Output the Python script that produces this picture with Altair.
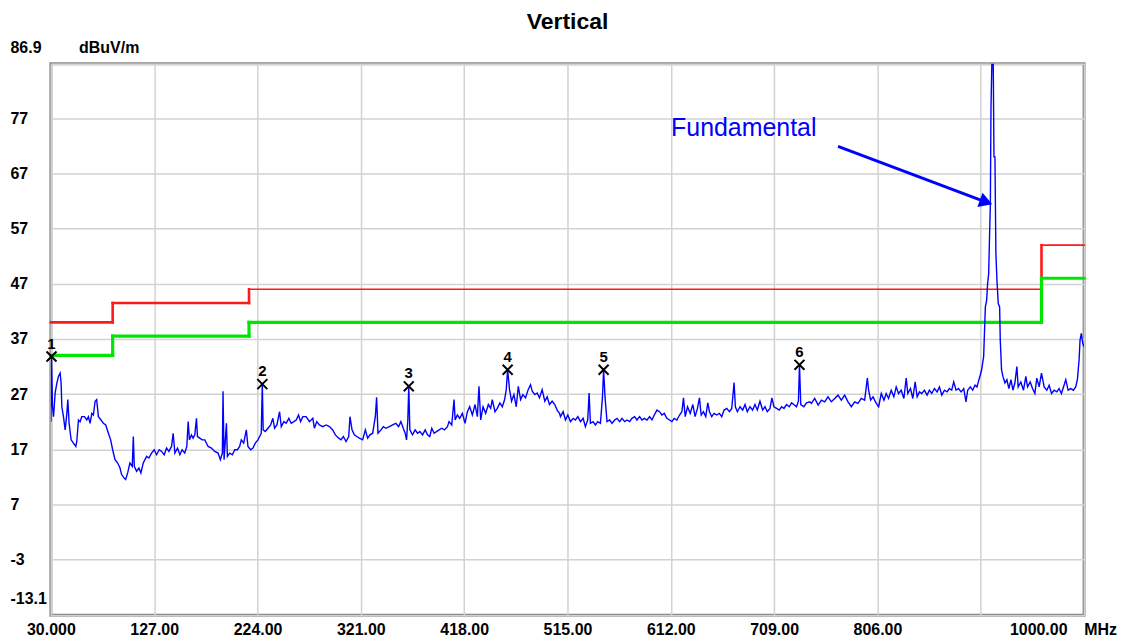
import altair as alt
import pandas as pd

# ---------------- data ----------------
trace_freq = [
    30.0, 30.6, 31.5, 32.5, 34.0, 35.6, 37.1, 38.7, 39.6, 40.3, 41.8, 43.4, 45.0, 45.9, 47.1, 49.0,
    51.2, 53.4, 54.3, 55.9, 57.4, 59.0, 61.5, 63.7, 65.2, 66.8, 68.4, 69.9, 71.5, 73.0, 74.6, 77.1,
    79.3, 81.5, 84.0, 86.1, 88.0, 90.2, 92.7, 94.9, 96.4, 98.6, 100.2, 102.1, 104.2, 106.4, 107.4, 108.3,
    110.5, 112.7, 114.5, 116.7, 119.9, 122.0, 124.5, 127.0, 129.2, 131.7, 133.9, 136.4, 138.6, 140.8,
    143.3, 144.8, 146.4, 148.9, 151.1, 153.2, 155.7, 157.6, 158.9, 160.1, 162.0, 163.5, 165.1, 166.7,
    167.6, 169.8, 172.0, 174.5, 177.6, 180.7, 183.8, 187.0, 189.1, 191.0, 191.6, 192.6, 193.8, 194.8,
    195.7, 197.9, 200.4, 202.6, 205.1, 207.2, 208.8, 211.0, 213.5, 215.0, 217.5, 219.7, 221.9, 224.4,
    226.0, 227.5, 228.5, 229.3, 231.3, 233.8, 236.3, 238.4, 240.0, 242.2, 244.7, 246.3, 248.8, 250.9,
    253.4, 255.6, 258.1, 260.3, 262.5, 264.4, 266.6,
    269.6, 272.8, 275.9, 277.4, 279.6, 282.1, 285.2, 288.4, 291.5, 294.6, 297.1, 300.2, 302.4, 304.6,
    307.1, 309.6, 310.8, 312.7, 314.9, 317.1, 319.6, 322.7, 325.2, 327.4, 329.6, 332.1, 334.6, 335.8,
    337.1, 339.9, 342.1, 344.5, 347.7, 350.8, 353.9, 356.4, 358.6, 360.8, 362.6, 363.9, 365.1, 366.0,
    367.0, 369.5, 372.0, 374.2, 376.4, 378.9, 381.4, 383.6, 385.7, 387.6, 389.8, 392.0, 394.5, 397.0,
    399.5, 402.3, 403.8, 406.3, 408.5, 409.5, 411.6, 413.8, 416.3, 418.8, 421.0, 423.2, 425.7, 428.2,
    430.4, 431.9, 433.5, 435.7, 438.2, 440.7, 442.9, 444.4, 446.9, 449.1, 451.6, 453.8, 456.0, 457.5,
    458.8, 460.6, 462.5, 464.7, 466.9, 468.8, 471.0, 473.1, 475.6, 478.1, 480.3, 481.9, 484.4, 486.6,
    488.7, 491.2, 493.7, 495.9, 498.1, 500.6, 503.1, 505.3,
    507.5, 508.4, 510.9, 513.1, 515.3, 517.8, 520.3, 522.5, 524.7, 527.2, 529.7, 531.8, 534.0, 535.3,
    536.5, 539.0, 541.2, 543.4, 545.9, 547.8, 548.9, 550.3, 552.1, 554.6, 556.8, 559.3, 561.5, 564.0,
    566.2, 568.7, 570.9, 573.4, 575.5, 578.0, 580.2, 582.7, 584.9, 587.1, 589.6, 592.1, 594.3, 596.5,
    599.0, 601.4, 603.6, 605.8, 608.3, 610.8, 613.0, 615.2, 617.7, 620.2, 622.4, 623.9, 625.5, 627.7,
    630.2, 632.7, 634.8, 637.0, 638.9, 640.5, 642.6, 644.8, 646.7, 648.3, 650.4, 652.6, 655.1, 657.6,
    659.8, 662.0, 664.5, 667.0, 669.2, 671.4, 672.6, 674.5, 677.0, 679.5, 681.7, 683.8, 686.3, 688.8,
    691.0, 693.2, 695.7, 698.2, 700.4, 702.6, 705.1, 706.9, 708.8, 711.3, 713.8, 716.0, 718.2, 720.7,
    723.2, 725.4, 727.5, 730.0, 731.8, 732.8, 734.0, 736.9, 739.4,
    742.5, 744.0, 747.1, 750.3, 753.4, 756.5, 759.6, 762.7, 765.9, 769.0, 772.1, 775.2, 778.4, 781.5,
    784.6, 787.7, 790.8, 794.0, 796.5, 797.7, 799.6, 801.8, 804.9, 807.1, 809.6, 812.1, 814.2, 816.4,
    818.9, 821.4, 823.6, 825.8, 828.3, 830.8, 833.0, 834.5, 837.0, 839.2, 841.4, 843.3, 845.5, 847.6,
    850.1, 852.6, 854.8, 857.0, 859.5, 862.0, 864.2, 866.4, 868.9, 871.4, 873.5, 875.7, 877.6, 879.8,
    882.0, 884.5, 887.0, 889.1, 890.7, 893.2, 895.4, 897.6, 899.4, 900.7, 902.6, 903.8, 905.7, 907.3,
    908.5, 909.4, 910.4, 911.3, 912.0, 912.6, 913.4, 914.7, 915.4, 916.3, 917.2, 918.2, 919.4, 920.7,
    921.3, 922.5, 923.8, 925.7, 927.5, 929.4, 931.3, 933.2, 935.0, 936.9, 938.1, 940.6, 943.1, 945.3,
    946.9, 949.4, 951.6, 953.8, 955.6, 957.8, 960.0, 962.5, 965.0, 967.2, 969.4, 971.9, 974.4, 976.5,
    978.7, 981.2, 982.8, 985.0, 987.5, 990.0, 992.1, 993.7, 995.3, 996.2, 997.4, 998.7, 1000.0,
]
trace_level = [
    22.0, 33.8, 24.7, 22.9, 27.2, 29.0, 30.2, 30.8, 29.0, 24.7, 22.9, 20.5, 23.5, 26.0, 21.7, 18.7,
    18.1, 17.5, 18.4, 22.3, 22.0, 22.9, 22.9, 22.3, 22.9, 21.7, 23.5, 23.2, 25.7, 26.0, 22.9, 22.3,
    21.7, 21.4, 19.9, 18.7, 16.9, 15.1, 14.5, 13.6, 12.4, 11.8, 11.5, 12.7, 14.5, 13.9, 19.3, 13.9,
    13.0, 13.6, 12.7, 14.5, 15.7, 15.4, 16.3, 16.9, 16.0, 16.9, 16.6, 16.0, 17.2, 16.6,
    17.5, 19.9, 16.3, 17.2, 16.0, 16.9, 16.3, 17.5, 22.0, 18.7, 19.6, 19.0, 19.6, 22.6,
    19.3, 19.0, 18.7, 18.7, 17.5, 17.2, 16.6, 16.3, 15.1, 16.3, 27.5, 15.1, 18.7, 21.7,
    15.7, 16.3, 16.0, 16.9, 16.9, 17.5, 18.7, 18.1, 20.5, 17.5, 16.9, 17.2, 18.1, 18.7,
    19.3, 19.9, 28.8, 20.5, 20.2, 20.8, 21.4, 22.6, 20.8, 21.4, 23.8, 21.1, 22.0, 21.7,
    22.6, 21.7, 22.0, 22.3, 23.2, 22.0, 22.9,
    22.9, 22.0, 22.6, 20.8, 22.0, 21.4, 21.1, 21.4, 21.1, 20.5, 19.6, 19.0, 18.7, 19.3,
    18.4, 19.3, 22.9, 20.5, 19.6, 19.3, 19.0, 18.7, 20.5, 19.0, 19.6, 19.9, 22.9, 26.4,
    19.9, 20.5, 21.1, 20.8, 21.1, 21.4, 21.7, 21.1, 22.0, 20.8, 19.9, 18.7, 22.3, 28.4,
    20.5, 19.6, 20.5, 19.9, 20.2, 19.6, 20.5, 19.6, 19.3, 20.8, 19.9, 20.2, 20.5, 20.8,
    20.5, 21.1, 22.0, 21.4, 26.0, 22.3, 23.2, 22.6, 23.5, 21.7, 23.8, 24.7, 23.2, 25.1,
    22.9, 28.4, 22.3, 24.7, 23.5, 25.1, 24.4, 26.0, 23.8, 24.4, 25.4, 24.7, 26.0, 27.8,
    31.4, 27.8, 25.7, 26.9, 24.7, 28.4, 26.0, 26.9, 26.3, 27.8, 28.7, 27.5, 26.9, 27.2,
    26.3, 27.8, 25.7, 26.5, 25.1, 25.7, 25.1, 24.1,
    23.5, 22.9, 23.8, 22.3, 23.2, 22.0, 22.6, 22.3, 22.9, 22.0, 22.6, 21.1, 22.3, 27.2,
    21.7, 22.0, 21.4, 22.0, 21.7, 26.3, 31.4, 26.3, 22.0, 22.3, 21.7, 22.3, 22.6, 22.0,
    22.6, 22.0, 22.3, 22.0, 22.6, 22.9, 22.3, 22.9, 22.3, 22.6, 22.3, 22.9, 22.3, 23.2,
    24.1, 23.8, 23.2, 23.5, 22.6, 22.3, 22.0, 22.6, 22.3, 23.2, 23.8, 26.3, 22.9, 24.7,
    23.5, 25.1, 22.9, 24.4, 26.3, 23.2, 23.8, 22.9, 25.4, 23.8, 22.9, 23.5, 23.2, 23.5,
    22.9, 24.1, 24.4, 23.8, 24.4, 29.1, 24.7, 23.8, 24.7, 24.1, 25.1, 23.8, 24.7, 24.1,
    25.1, 24.1, 25.7, 24.1, 24.7, 23.8, 24.4, 26.3, 24.7, 24.4, 24.1, 24.7, 24.4, 25.1,
    24.7, 25.4, 25.1, 24.7, 25.7, 32.3, 25.1, 24.7, 25.4,
    25.6, 25.3, 26.2, 25.0, 25.9, 25.6, 26.5, 25.6, 26.2, 26.8, 25.9, 26.8, 25.6, 24.7,
    25.6, 25.3, 26.2, 25.9, 29.9, 27.7, 25.9, 26.5, 25.3, 24.7, 27.1, 25.9, 27.1, 26.2,
    27.7, 26.5, 28.3, 27.1, 27.7, 26.2, 29.9, 27.1, 28.0, 26.2, 29.2, 26.5, 27.4, 27.1,
    27.7, 26.8, 27.7, 27.1, 28.0, 27.4, 28.3, 26.8, 27.7, 27.4, 28.0, 27.7, 29.2, 27.7,
    28.0, 27.4, 28.0, 25.6, 27.7, 28.3, 27.7, 28.6, 28.3, 29.2, 30.5, 31.4, 33.8, 42.8,
    44.0, 47.0, 48.8, 56.1, 61.5, 79.0, 86.9, 86.9, 70.0, 70.0, 52.5, 47.6, 43.4, 42.8,
    36.8, 31.4, 30.2, 29.0, 29.6, 28.0, 29.6, 27.7, 29.0, 32.0, 28.3, 29.2, 27.7, 30.2,
    28.3, 29.2, 28.0, 27.1, 29.9, 28.3, 30.8, 28.3, 27.7, 28.6, 27.1, 27.7, 27.4, 28.0,
    27.1, 28.6, 29.6, 27.7, 28.0, 27.7, 28.3, 29.6, 33.2, 36.8, 38.0, 36.2, 35.6,
]

limit_edges = [30, 88, 216, 960, 1000]
red_levels = [40.0, 43.5, 46.0, 54.0]
green_levels = [34.0, 37.5, 40.0, 48.0]

marker_ids = ["1", "2", "3", "4", "5", "6"]
marker_freq = [30.6, 228.5, 366.0, 458.8, 548.9, 732.8]
marker_level = [33.8, 28.8, 28.4, 31.4, 31.4, 32.3]

x_ticks = [30, 127, 224, 321, 418, 515, 612, 709, 806, 903, 1000]
x_tick_labels = ["30.000", "127.00", "224.00", "321.00", "418.00", "515.00",
                 "612.00", "709.00", "806.00", "", "1000.00"]
y_ticks = [-13.1, -3, 7, 17, 27, 37, 47, 57, 67, 77, 86.9]

note_text = ["Fundamental"]
note_freq = [680.5]
note_level = [75.3]
arrow_from = [769.0, 71.9]
arrow_to = [908.0, 61.8]

# ---------------- tables ----------------
trace_df = pd.DataFrame({"f": trace_freq, "v": trace_level})

RED_W = [2.6, 2.6, 1.6, 1.6]
rows = []
for name, levels, color in (("red", red_levels, "#ff1a1a"), ("green", green_levels, "#00e600")):
    for i, lv in enumerate(levels):
        w = RED_W[i] if name == "red" else 3.2
        rows.append({"f": limit_edges[i], "f2": limit_edges[i + 1], "v": lv, "v2": lv,
                     "c": color, "w": w, "o": 1 if name == "red" else 2})
        if i > 0:
            rows.append({"f": limit_edges[i], "f2": limit_edges[i], "v": levels[i - 1], "v2": lv,
                         "c": color, "w": 3.2 if name == "green" else 2.6,
                         "o": 1 if name == "red" else 2})
limit_df = pd.DataFrame(rows)

marker_df = pd.DataFrame({"id": marker_ids, "f": marker_freq, "v": marker_level})
note_df = pd.DataFrame({"t": note_text, "f": note_freq, "v": note_level})
arrow_df = pd.DataFrame({"f": [arrow_from[0]], "v": [arrow_from[1]],
                         "f2": [arrow_to[0]], "v2": [arrow_to[1]]})
head_df = pd.DataFrame({"f": [arrow_to[0]], "v": [arrow_to[1]]})

# ---------------- scales / axes ----------------
FONT = "Liberation Sans"
x_label_expr = ""
for val, lab in zip(x_ticks, x_tick_labels):
    x_label_expr += f"datum.value == {val} ? '{lab}' : "
x_label_expr += "''"

xscale = alt.Scale(domain=[30, 1000], nice=False, zero=False)
yscale = alt.Scale(domain=[-13.1, 86.9], nice=False, zero=False)

x_axis = alt.Axis(values=x_ticks, labelExpr=x_label_expr, labelFlush=False, labelOverlap=False,
                  labelPadding=6, labelBaseline="top",
                  labelOffset={"condition": {"test": "datum.value == 1000", "value": -46}, "value": 0},
                  title="MHz", titleX=1052, titleY=6, titleBaseline="top", titleAlign="center",
                  titleFont=FONT, titleFontSize=16, titleFontWeight="bold", titleColor="black")
y_axis = alt.Axis(values=y_ticks, labelExpr="'' + datum.value", labelFlush=False, labelOverlap=False,
                  labelAlign="left", labelPadding=41, labelBaseline="middle",
                  labelOffset={"condition": {"test": "datum.value > 80 || datum.value < -10", "value": -16.5},
                               "value": 0},
                  title="dBuV/m", titleAngle=0, titleX=58, titleY=-16, titleBaseline="middle",
                  titleAlign="center", titleFont=FONT, titleFontSize=16, titleFontWeight="bold",
                  titleColor="black")

X = alt.X("f:Q", scale=xscale, axis=x_axis)
Y = alt.Y("v:Q", scale=yscale, axis=y_axis)

limits = alt.Chart(limit_df).mark_rule(strokeCap="square").encode(
    x=X, x2="f2:Q", y=Y, y2="v2:Q",
    color=alt.Color("c:N", scale=None),
    strokeWidth=alt.StrokeWidth("w:Q", scale=None),
    order="o:Q",
)

trace = alt.Chart(trace_df).mark_line(color="#0000ff", strokeWidth=1.4, clip=True).encode(
    x="f:Q", y="v:Q", order=alt.Order("f:Q"))

xmarks = alt.Chart(marker_df).mark_point(
    shape="M-1,-1L1,1M-1,1L1,-1", size=100, color="black", strokeWidth=2, opacity=1
).encode(x="f:Q", y="v:Q")

xlabels = alt.Chart(marker_df).mark_text(
    font=FONT, fontSize=15, fontWeight="bold", color="black", dy=-13, baseline="middle"
).encode(x="f:Q", y="v:Q", text="id:N")

note = alt.Chart(note_df).mark_text(
    font=FONT, fontSize=25, color="#0000ff", baseline="middle", align="center"
).encode(x="f:Q", y="v:Q", text="t:N")

arrow = alt.Chart(arrow_df).mark_rule(color="#0000ff", strokeWidth=3).encode(
    x="f:Q", y="v:Q", x2="f2:Q", y2="v2:Q")

head = alt.Chart(head_df).mark_point(
    shape="triangle-right", size=230, filled=True, color="#0000ff", angle=20, opacity=1
).encode(x="f:Q", y="v:Q")

chart = alt.layer(limits, trace, xmarks, xlabels, note, arrow, head).properties(
    width=1036, height=553,
    padding={"left": 43, "top": 55, "right": 36, "bottom": 25},
    autosize="none",
    title=alt.TitleParams("Vertical", font=FONT, fontSize=23, fontWeight="bold", color="black",
                          anchor="middle", frame="group", offset=5),
).configure_view(
    stroke="#8c8c8c", strokeWidth=3
).configure_axis(
    grid=True, gridColor="#d2d2d2", gridWidth=1.5, domain=False, ticks=False, tickSize=0,
    labelFont=FONT, labelFontSize=16, labelFontWeight="bold", labelColor="black",
)

chart.save("out.html", embed_options={"renderer": "svg", "actions": False})
